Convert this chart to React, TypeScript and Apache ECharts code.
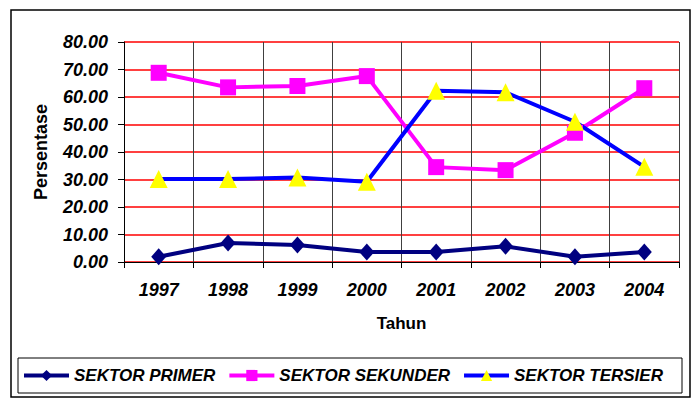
import React, { useEffect, useRef } from "react";
import * as echarts from "echarts";

const years = ["1997", "1998", "1999", "2000", "2001", "2002", "2003", "2004"];
const primer = [1.9, 6.9, 6.2, 3.6, 3.6, 5.7, 1.9, 3.6];
const sekunder = [68.8, 63.5, 64.0, 67.6, 34.5, 33.4, 47.0, 63.2];
const tersier = [30.2, 30.2, 30.7, 29.2, 62.3, 61.7, 51.0, 34.6];
const yTicks = { min: 0, max: 80, interval: 10 };

const FONT = '"Liberation Sans", Arial, sans-serif';

export default function App() {
  const ref = useRef<HTMLDivElement>(null);
  useEffect(() => {
    if (!ref.current) return;
    const chart = echarts.init(ref.current, undefined, { renderer: "svg" });
    chart.setOption({
      animation: false,
      backgroundColor: "#ffffff",
      textStyle: { fontFamily: FONT },
      graphic: [
        {
          type: "rect",
          shape: { x: 11, y: 10, width: 679, height: 387 },
          style: { fill: "none", stroke: "#000", lineWidth: 1.5 },
          silent: true,
        },
        {
          type: "rect",
          shape: { x: 18, y: 358, width: 664, height: 35 },
          style: { fill: "none", stroke: "#000", lineWidth: 1 },
          silent: true,
        },
      ],
      grid: { left: 124, right: 13, top: 42, bottom: 138, containLabel: false },
      legend: {
        left: 22,
        top: 367,
        padding: 0,
        itemWidth: 45,
        itemHeight: 14,
        itemGap: 12,
        lineStyle: { width: 4 },
        textStyle: {
          fontFamily: FONT,
          fontSize: 17,
          fontWeight: "bold",
          fontStyle: "italic",
          color: "#000",
        },
        data: ["SEKTOR PRIMER", "SEKTOR SEKUNDER", "SEKTOR TERSIER"],
      },
      xAxis: {
        type: "category",
        data: years,
        boundaryGap: true,
        name: "Tahun",
        nameLocation: "middle",
        nameGap: 53,
        nameTextStyle: { fontFamily: FONT, fontSize: 17, fontWeight: "bold", color: "#000" },
        axisLine: { lineStyle: { color: "#000", width: 1 } },
        axisTick: { show: true, length: 6, lineStyle: { color: "#000" } },
        axisLabel: {
          margin: 19,
          fontFamily: FONT,
          fontSize: 18,
          fontWeight: "bold",
          fontStyle: "italic",
          color: "#000",
        },
        splitLine: { show: true, lineStyle: { color: "#404040", width: 1 } },
      },
      yAxis: {
        type: "value",
        min: yTicks.min,
        max: yTicks.max,
        interval: yTicks.interval,
        name: "Persentase",
        nameLocation: "middle",
        nameGap: 74,
        nameRotate: 90,
        nameTextStyle: { fontFamily: FONT, fontSize: 18, fontWeight: "bold", color: "#000" },
        axisLine: { show: true, lineStyle: { color: "#000", width: 1 } },
        axisTick: { show: true, length: 6, lineStyle: { color: "#000" } },
        axisLabel: {
          margin: 16,
          formatter: (v: number) => v.toFixed(2),
          fontFamily: FONT,
          fontSize: 18,
          fontWeight: "bold",
          fontStyle: "italic",
          color: "#000",
        },
        splitLine: { show: true, lineStyle: { color: "#ff0000", width: 1.5 } },
      },
      series: [
        {
          name: "SEKTOR PRIMER",
          type: "line",
          data: primer,
          symbol: "diamond",
          symbolSize: [15, 17],
          lineStyle: { color: "#000080", width: 4 },
          itemStyle: { color: "#000080" },
        },
        {
          name: "SEKTOR SEKUNDER",
          type: "line",
          data: sekunder,
          symbol: "rect",
          symbolSize: 16,
          lineStyle: { color: "#ff00ff", width: 4 },
          itemStyle: { color: "#ff00ff" },
        },
        {
          name: "SEKTOR TERSIER",
          type: "line",
          data: tersier,
          symbol: "triangle",
          symbolSize: [18, 18],
          lineStyle: { color: "#0000ff", width: 4 },
          itemStyle: { color: "#ffff00" },
        },
      ],
    });
    return () => chart.dispose();
  }, []);
  return (
    <div
      ref={ref}
      style={{ position: "fixed", left: 0, top: 0, width: 692, height: 400, background: "#fff" }}
    />
  );
}
